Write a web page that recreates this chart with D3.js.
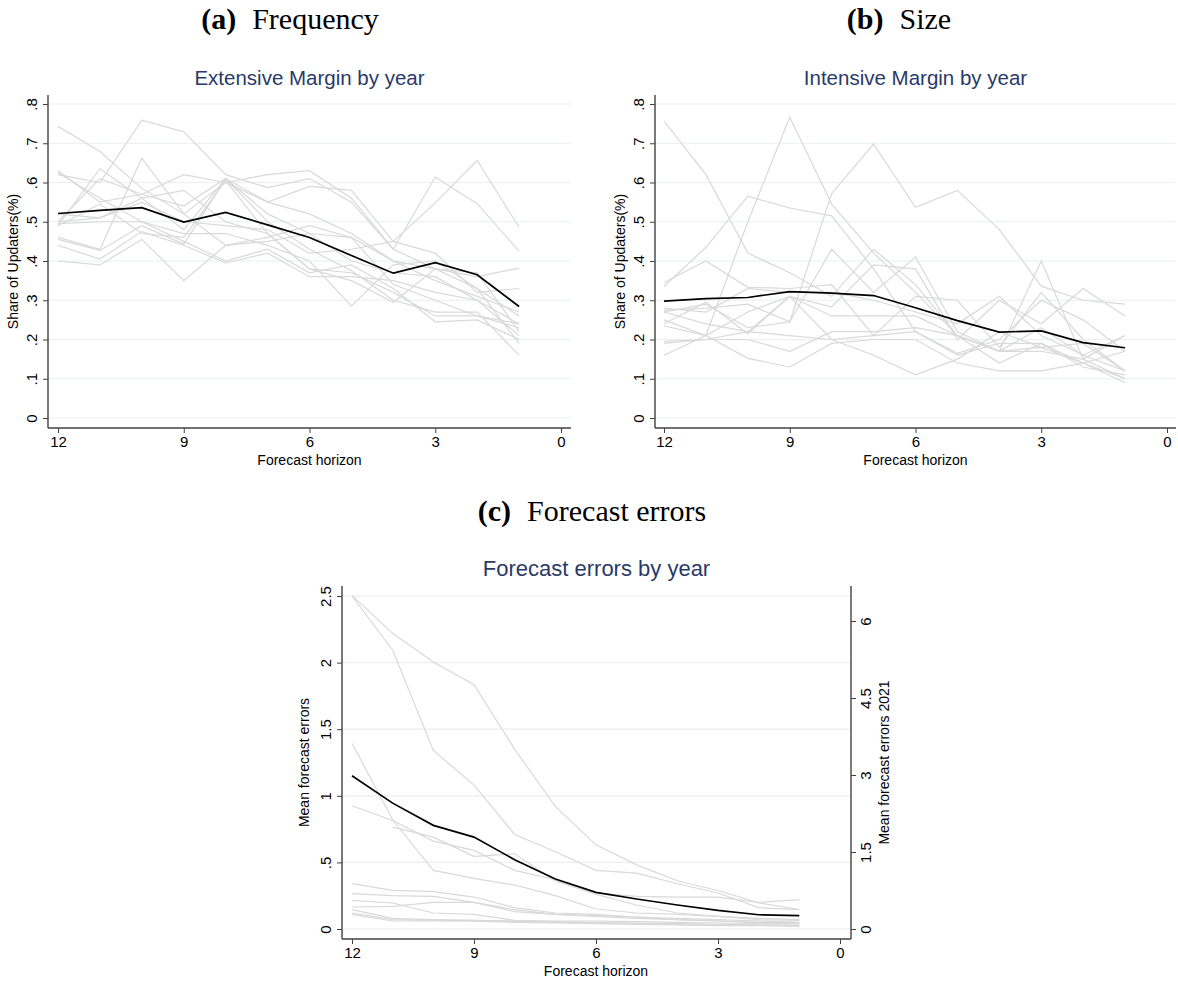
<!DOCTYPE html>
<html>
<head>
<meta charset="utf-8">
<script src="https://cdn.jsdelivr.net/npm/d3@7"></script>
<style>
  body { margin: 0; background: #fff; }
  svg { display: block; }
</style>
</head>
<body>
<div id="chart"></div>
<script>
var w = 1178;
var h = 981;

// forecast horizon (months)
var horizons = [12, 11, 10, 9, 8, 7, 6, 5, 4, 3, 2, 1];
var xTicks = [12, 9, 6, 3, 0];
var shareTicks = [0, .1, .2, .3, .4, .5, .6, .7, .8];
var shareTickLabels = ["0", ".1", ".2", ".3", ".4", ".5", ".6", ".7", ".8"];
var errTicks = [0, .5, 1, 1.5, 2, 2.5];
var errTickLabels = ["0", ".5", "1", "1.5", "2", "2.5"];
var err2021Ticks = [0, 1.5, 3, 4.5, 6];
var err2021TickLabels = ["0", "1.5", "3", "4.5", "6"];

// (a) extensive margin
var extMean = [.521, .529, .536, .499, .524, .492, .460, .414, .369, .396, .365, .284];
var extYears = [
    [.743, .679, .585, .52, .60, .55, .52, .47, .40, .35, .31, .27],
    [.62, .60, .759, .729, .62, .587, .61, .55, .43, .38, .33, .26],
    [.46, .43, .662, .52, .44, .45, .47, .40, .37, .36, .30, .24],
    [.63, .55, .57, .62, .60, .62, .63, .56, .43, .614, .546, .425],
    [.50, .61, .57, .54, .61, .55, .59, .58, .45, .548, .656, .486],
    [.49, .635, .56, .48, .61, .52, .47, .46, .40, .38, .36, .382],
    [.40, .39, .455, .35, .44, .46, .49, .46, .34, .30, .26, .23],
    [.44, .405, .475, .44, .395, .42, .36, .36, .35, .32, .30, .21],
    [.495, .50, .50, .47, .47, .44, .40, .285, .39, .40, .33, .19],
    [.455, .427, .49, .443, .61, .50, .43, .375, .30, .27, .27, .16],
    [.49, .545, .47, .46, .605, .47, .38, .37, .32, .26, .26, .24],
    [.625, .56, .50, .45, .40, .43, .37, .39, .33, .245, .25, .20],
    [.52, .51, .55, .50, .49, .48, .42, .43, .45, .42, .32, .33],
    [.50, .51, .56, .58, .50, .47, .38, .35, .295, .38, .37, .22]
];

// (b) intensive margin
var intMean = [.298, .304, .307, .322, .318, .312, .281, .248, .219, .222, .192, .179];
var intYears = [
    [.757, .62, .42, .37, .31, .43, .34, .21, .17, .23, .16, .12],
    [.16, .21, .50, .766, .545, .42, .32, .21, .14, .19, .14, .10],
    [.27, .29, .23, .245, .572, .698, .537, .58, .48, .336, .30, .29],
    [.335, .435, .565, .535, .515, .38, .22, .165, .20, .30, .25, .17],
    [.345, .40, .333, .33, .34, .21, .31, .30, .18, .32, .20, .12],
    [.275, .28, .29, .245, .43, .32, .41, .22, .17, .40, .15, .21],
    [.24, .295, .215, .31, .283, .39, .38, .20, .30, .24, .33, .26],
    [.19, .20, .22, .31, .26, .26, .26, .21, .17, .18, .14, .17],
    [.27, .24, .22, .21, .20, .21, .22, .16, .19, .19, .13, .11],
    [.235, .21, .152, .13, .19, .20, .20, .14, .12, .12, .14, .09],
    [.195, .20, .20, .17, .22, .22, .23, .21, .17, .17, .15, .10],
    [.28, .27, .33, .32, .32, .30, .27, .24, .31, .21, .16, .21],
    [.25, .21, .27, .31, .20, .16, .11, .15, .22, .18, .19, .12]
];

// (c) forecast errors
var errMean = [1.15, .945, .778, .69, .52, .375, .275, .225, .18, .14, .107, .10];
var errYears = [
    [2.5, 2.095, 1.34, 1.08, .71, .58, .44, .42, .34, .27, .16, .145],
    [1.395, .82, .44, .38, .33, .25, .15, .12, .11, .095, .08, .07],
    [.925, .815, .66, .59, .44, .37, .27, .245, .24, .24, .20, .22],
    [null, .765, .69, .545, .565, .36, .26, .18, .12, .095, .07, .065],
    [.34, .29, .28, .24, .16, .12, .11, .09, .07, .06, .05, .05],
    [.265, .25, .245, .20, .145, .11, .095, .08, .07, .06, .05, .04],
    [.215, .195, .12, .11, .065, .06, .06, .055, .05, .045, .04, .04],
    [.165, .17, .20, .20, .13, .11, .10, .09, .08, .07, .06, .05],
    [.145, .08, .07, .065, .06, .055, .05, .045, .04, .035, .03, .03],
    [.12, .07, .065, .065, .057, .05, .045, .04, .035, .03, .03, .025],
    [.11, .06, .06, .058, .05, .045, .04, .035, .03, .025, .025, .02]
];
// 2021 is drawn against the right axis
var err2021 = [6.5, 5.76, 5.2, 4.76, 3.5, 2.39, 1.64, 1.25, .94, .75, .51, .38];

var svg = d3.select("#chart")
    .append("svg")
    .attr("width", w)
    .attr("height", h);

var sansFont = "'Liberation Sans', Arial, sans-serif";
var serifFont = "'Liberation Serif', 'DejaVu Serif', serif";
var titleColor = "#2a3a68";
var axisColor = "#404040";
var gridColor = "#e8f0f2";
var grayLine = "#d9d9d9";
var tickSize = "15px";

function caption(cx, y, tag, label) {
    var t = svg.append("text")
        .attr("x", cx)
        .attr("y", y)
        .attr("text-anchor", "middle")
        .style("font-family", serifFont)
        .style("font-size", "30px")
        .style("fill", "#000");
    t.append("tspan").style("font-weight", "bold").text(tag);
    t.append("tspan").attr("dx", 16).text(label);
}

function panel(o) {
    var g = svg.append("g");
    var x = d3.scaleLinear().domain([12, 0]).range(o.xRange);
    var y = d3.scaleLinear().domain(o.yDomain).range(o.yRange);

    // gridlines
    g.selectAll("line.grid")
        .data(o.yTicks)
        .enter()
        .append("line")
        .attr("x1", o.left)
        .attr("x2", o.right)
        .attr("y1", function(d) { return y(d); })
        .attr("y2", function(d) { return y(d); })
        .style("stroke", gridColor)
        .style("stroke-width", 1.2);

    var line = d3.line()
        .defined(function(d) { return d != null; })
        .x(function(d, i) { return x(horizons[i]); })
        .y(function(d) { return y(d); });

    o.years.forEach(function(s) {
        g.append("path")
            .attr("d", line(s))
            .style("fill", "none")
            .style("stroke", grayLine)
            .style("stroke-width", 1.2);
    });

    if (o.extra) {
        var y2 = d3.scaleLinear().domain(o.extra.domain).range(o.extra.range);
        var line2 = d3.line()
            .x(function(d, i) { return x(horizons[i]); })
            .y(function(d) { return y2(d); });
        g.append("path")
            .attr("d", line2(o.extra.values))
            .style("fill", "none")
            .style("stroke", grayLine)
            .style("stroke-width", 1.2);

        var right = g.append("g")
            .attr("transform", "translate(" + o.right + ",0)")
            .call(d3.axisRight(y2).tickValues(o.extra.ticks).tickSize(5).tickFormat(""));
        right.select(".domain")
            .attr("d", "M0," + o.top + "V" + o.bottom)
            .style("stroke", axisColor).style("stroke-width", 1.4);
        right.selectAll(".tick line").style("stroke", axisColor);
        right.selectAll(".tick")
            .append("text")
            .attr("transform", "translate(15,0) rotate(-90)")
            .attr("text-anchor", "middle")
            .attr("dy", "0.35em")
            .style("font-family", sansFont)
            .style("font-size", tickSize)
            .style("fill", "#000")
            .text(function(d, i) { return o.extra.labels[i]; });

        svg.append("text")
            .attr("transform", "translate(" + (o.right + 38) + "," + ((o.top + o.bottom) / 2) + ") rotate(-90)")
            .attr("text-anchor", "middle")
            .style("font-family", sansFont)
            .style("font-size", "14px")
            .text(o.extra.title);
    }

    g.append("path")
        .attr("d", line(o.mean))
        .style("fill", "none")
        .style("stroke", "#000")
        .style("stroke-width", 1.7);

    // y axis
    var ya = g.append("g")
        .attr("transform", "translate(" + o.left + ",0)")
        .call(d3.axisLeft(y).tickValues(o.yTicks).tickSize(5).tickFormat(""));
    ya.select(".domain")
        .attr("d", "M0," + o.top + "V" + o.bottom)
        .style("stroke", axisColor).style("stroke-width", 1.4);
    ya.selectAll(".tick line").style("stroke", axisColor);
    ya.selectAll(".tick")
        .append("text")
        .attr("transform", "translate(-16,0) rotate(-90)")
        .attr("text-anchor", "middle")
        .attr("dy", "0.35em")
        .style("font-family", sansFont)
        .style("font-size", tickSize)
        .style("fill", "#000")
        .text(function(d, i) { return o.yLabels[i]; });

    // x axis
    var xa = g.append("g")
        .attr("transform", "translate(0," + o.bottom + ")")
        .call(d3.axisBottom(x).tickValues(xTicks).tickSize(5).tickPadding(3));
    xa.select(".domain")
        .attr("d", "M" + o.left + ",0H" + o.right)
        .style("stroke", axisColor).style("stroke-width", 1.4);
    xa.selectAll(".tick line").style("stroke", axisColor);
    xa.selectAll(".tick text")
        .style("font-family", sansFont)
        .style("font-size", tickSize)
        .style("fill", "#000");

    svg.append("text")
        .attr("x", (o.left + o.right) / 2)
        .attr("y", o.top - 10)
        .attr("text-anchor", "middle")
        .style("font-family", sansFont)
        .style("font-size", o.titleSize)
        .style("fill", titleColor)
        .text(o.title);

    svg.append("text")
        .attr("x", (o.xRange[0] + o.xRange[1]) / 2)
        .attr("y", o.bottom + 37)
        .attr("text-anchor", "middle")
        .style("font-family", sansFont)
        .style("font-size", "14px")
        .text("Forecast horizon");

    svg.append("text")
        .attr("transform", "translate(" + o.yTitleX + "," + ((o.top + o.bottom) / 2) + ") rotate(-90)")
        .attr("text-anchor", "middle")
        .style("font-family", sansFont)
        .style("font-size", "14px")
        .text(o.yTitle);
}

caption(290, 29, "(a)", "Frequency");
caption(899, 29, "(b)", "Size");
caption(592, 521, "(c)", "Forecast errors");

panel({
    title: "Extensive Margin by year",
    titleSize: "20.5px",
    yTitle: "Share of Updaters(%)",
    left: 48, right: 571, top: 95, bottom: 428,
    xRange: [58, 561],
    yDomain: [0, .8], yRange: [418, 104],
    yTicks: shareTicks, yLabels: shareTickLabels,
    yTitleX: 18,
    years: extYears, mean: extMean
});

panel({
    title: "Intensive Margin by year",
    titleSize: "20.5px",
    yTitle: "Share of Updaters(%)",
    left: 655, right: 1176, top: 95, bottom: 428,
    xRange: [664, 1167],
    yDomain: [0, .8], yRange: [418, 104],
    yTicks: shareTicks, yLabels: shareTickLabels,
    yTitleX: 625,
    years: intYears, mean: intMean
});

panel({
    title: "Forecast errors by year",
    titleSize: "22px",
    yTitle: "Mean forecast errors",
    left: 342, right: 851, top: 586, bottom: 939,
    xRange: [352, 840],
    yDomain: [0, 2.5], yRange: [929, 596],
    yTicks: errTicks, yLabels: errTickLabels,
    yTitleX: 309,
    years: errYears, mean: errMean,
    extra: {
        domain: [0, 6], range: [929, 621],
        ticks: err2021Ticks, labels: err2021TickLabels,
        values: err2021,
        title: "Mean forecast errors 2021"
    }
});
</script>
</body>
</html>
